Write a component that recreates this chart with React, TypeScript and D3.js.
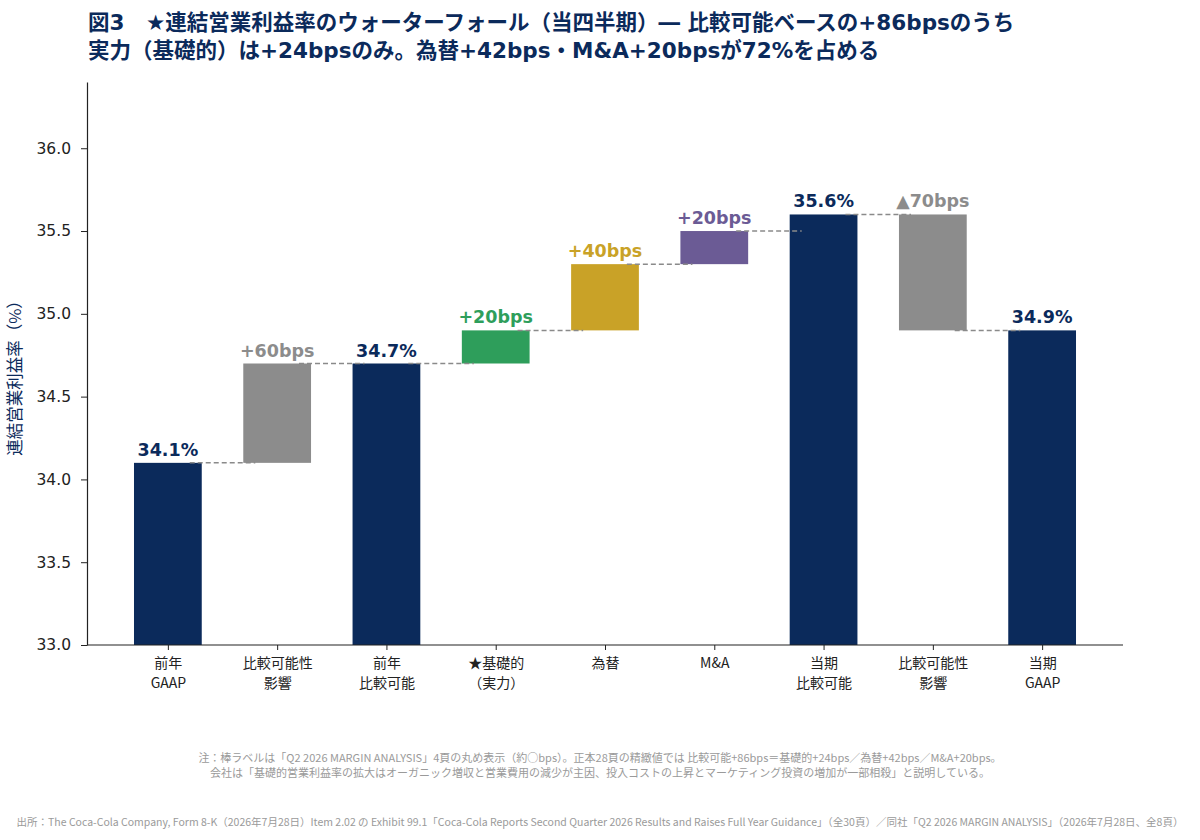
import React from "react";
import * as d3 from "d3";

// 棒の並び（2行ラベルは \n で区切る）
const categories = [
  "前年\nGAAP",
  "比較可能性\n影響",
  "前年\n比較可能",
  "★基礎的\n（実力）",
  "為替",
  "M&A",
  "当期\n比較可能",
  "比較可能性\n影響",
  "当期\nGAAP",
];
// "total" は 33.0 からの棒、"delta" は直前の水準からの増減（%pt）
const kinds = ["total", "delta", "total", "delta", "delta", "delta", "total", "delta", "total"];
const values = [34.1, 0.6, 34.7, 0.2, 0.4, 0.2, 35.6, -0.7, 34.9];
const labels = ["34.1%", "+60bps", "34.7%", "+20bps", "+40bps", "+20bps", "35.6%", "▲70bps", "34.9%"];
const barColors = ["#0b2a5b", "#8c8c8c", "#0b2a5b", "#2e9e5b", "#c9a227", "#6b5b95", "#0b2a5b", "#8c8c8c", "#0b2a5b"];
const yTicks = [33.0, 33.5, 34.0, 34.5, 35.0, 35.5, 36.0];

const titleLines = [
  "図3　★連結営業利益率のウォーターフォール（当四半期）― 比較可能ベースの+86bpsのうち",
  "実力（基礎的）は+24bpsのみ。為替+42bps・M&A+20bpsが72%を占める",
];
const noteLines = [
  "注：棒ラベルは「Q2 2026 MARGIN ANALYSIS」4頁の丸め表示（約○bps）。正本28頁の精緻値では 比較可能+86bps＝基礎的+24bps／為替+42bps／M&A+20bps。",
  "会社は「基礎的営業利益率の拡大はオーガニック増収と営業費用の減少が主因、投入コストの上昇とマーケティング投資の増加が一部相殺」と説明している。",
];
const sourceLine =
  "出所：The Coca-Cola Company, Form 8-K（2026年7月28日）Item 2.02 の Exhibit 99.1「Coca-Cola Reports Second Quarter 2026 Results and Raises Full Year Guidance」（全30頁）／同社「Q2 2026 MARGIN ANALYSIS」（2026年7月28日、全8頁）";

const NAVY = "#0b2a5b";
const JP = "'Noto Sans CJK JP', 'Noto Sans', sans-serif";
const NUM = "'DejaVu Sans', 'Noto Sans CJK JP', sans-serif";

const App: React.FC = () => {
  const svgRef = React.useRef<SVGSVGElement>(null);

  React.useEffect(() => {
    if (!svgRef.current) return;
    const svg = d3.select(svgRef.current);
    svg.selectAll("*").remove();

    const left = 87;
    const right = 1123;
    const top = 82;
    const bottom = 645;

    const x = d3
      .scalePoint<number>()
      .domain(d3.range(categories.length))
      .range([left, right])
      .padding(0.74);
    const step = x.step();
    const barW = step * 0.62;
    const y = d3.scaleLinear().domain([33, 36.4]).range([bottom, top]);

    // 各棒の下端・上端と、棒の後の水準
    let level = 0;
    const bars = values.map((v, i) => {
      let lo: number;
      let hi: number;
      if (kinds[i] === "total") {
        lo = 33;
        hi = v;
        level = v;
      } else {
        lo = Math.min(level, level + v);
        hi = Math.max(level, level + v);
        level = level + v;
      }
      return { i, lo, hi, end: level };
    });

    // title
    const title = svg
      .append("text")
      .attr("font-family", NUM)
      .attr("font-weight", 700)
      .attr("font-size", 21.5)
      .attr("fill", NAVY);
    titleLines.forEach((t, k) => {
      title
        .append("tspan")
        .attr("x", 88)
        .attr("y", 30 + k * 28)
        .text(t);
    });

    // bars
    svg
      .append("g")
      .selectAll("rect")
      .data(bars)
      .join("rect")
      .attr("x", d => x(d.i)! - barW / 2)
      .attr("width", barW)
      .attr("y", d => y(d.hi))
      .attr("height", d => y(d.lo) - y(d.hi))
      .attr("fill", d => barColors[d.i]);

    // connectors
    svg
      .append("g")
      .selectAll("line")
      .data(bars.slice(0, -1))
      .join("line")
      .attr("x1", d => x(d.i)! + step * 0.2)
      .attr("x2", d => x(d.i + 1)! - step * 0.2)
      .attr("y1", d => y(d.end))
      .attr("y2", d => y(d.end))
      .attr("stroke", "#8a8a8a")
      .attr("stroke-width", 1.5)
      .attr("stroke-dasharray", "5,3");

    // value labels
    svg
      .append("g")
      .selectAll("text")
      .data(bars)
      .join("text")
      .attr("x", d => x(d.i)!)
      .attr("y", d => y(d.hi) - 7)
      .attr("text-anchor", "middle")
      .attr("font-family", NUM)
      .attr("font-weight", 700)
      .attr("font-size", 17.5)
      .attr("fill", d => barColors[d.i])
      .text(d => labels[d.i]);

    // y axis
    const yAxis = svg
      .append("g")
      .attr("transform", `translate(${left},0)`)
      .call(
        d3
          .axisLeft(y)
          .tickValues(yTicks)
          .tickFormat(d3.format(".1f"))
          .tickSize(6)
          .tickSizeOuter(0)
          .tickPadding(10)
      );
    yAxis.select(".domain").attr("stroke", "#222").attr("stroke-width", 1.2);
    yAxis.selectAll(".tick line").attr("stroke", "#222");
    yAxis
      .selectAll(".tick text")
      .attr("font-family", NUM)
      .attr("font-size", 15.5)
      .attr("fill", "#222");

    // x axis
    const xAxis = svg
      .append("g")
      .attr("transform", `translate(0,${bottom})`)
      .call(d3.axisBottom(x).tickSize(5).tickSizeOuter(0).tickFormat(() => ""));
    xAxis
      .select(".domain")
      .attr("d", `M${left},0H${right}`)
      .attr("stroke", "#222")
      .attr("stroke-width", 1.2);
    xAxis.selectAll(".tick line").attr("stroke", "#222");
    xAxis.selectAll(".tick text").remove();
    xAxis
      .selectAll(".tick")
      .append("text")
      .attr("font-family", JP)
      .attr("font-size", 14)
      .attr("fill", "#222")
      .attr("text-anchor", "middle")
      .each(function (d) {
        const lines = categories[d as number].split("\n");
        lines.forEach((t, k) => {
          d3.select(this)
            .append("tspan")
            .attr("x", 0)
            .attr("y", 23 + k * 20)
            .text(t);
        });
      });

    // y label
    svg
      .append("text")
      .attr("transform", `translate(21,374) rotate(-90)`)
      .attr("text-anchor", "middle")
      .attr("font-family", JP)
      .attr("font-size", 16.5)
      .attr("fill", NAVY)
      .text("連結営業利益率（%）");

    // notes
    noteLines.forEach((t, k) => {
      svg
        .append("text")
        .attr("x", 600)
        .attr("y", 762 + k * 15)
        .attr("text-anchor", "middle")
        .attr("font-family", JP)
        .attr("font-size", 11)
        .attr("fill", "#9a9a9a")
        .text(t);
    });
    svg
      .append("text")
      .attr("x", 600)
      .attr("y", 826)
      .attr("text-anchor", "middle")
      .attr("font-family", JP)
      .attr("font-size", 10.5)
      .attr("fill", "#9a9a9a")
      .text(sourceLine);
  }, []);

  return (
    <svg
      ref={svgRef}
      width={1200}
      height={840}
      style={{ position: "absolute", left: 0, top: 0, background: "#fff" }}
    />
  );
};

export default App;
